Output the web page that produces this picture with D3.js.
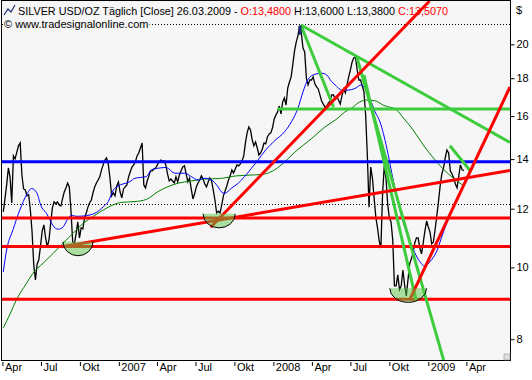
<!DOCTYPE html>
<html>
<head>
<meta charset="utf-8">
<script src="https://cdn.jsdelivr.net/npm/d3@7"></script>
<style>
  body { margin: 0; background: #fff; }
  svg { display: block; font-family: "Liberation Sans", Arial, sans-serif; }
</style>
</head>
<body>
<svg id="chart" width="532" height="380"></svg>
<script>
// Silver close, one reading every 4 calendar days starting at firstDay
const firstDay = "2006-04-03";
const stepDays = 4;
const closes = [
  11.88, 12.37, 12.92, 13.62, 13.25, 12.22, 14.14, 14.01, 14.31, 14.59,
  14.72, 13.33, 12.76, 12.72, 12.49, 12.53, 11.95, 11.17, 10.08, 9.62,
  10.11, 10.24, 10.69, 11.20, 11.41, 10.96, 10.66, 10.89, 11.48, 12.03,
  12.26, 12.18, 12.26, 12.14, 12.10, 12.37, 12.64, 12.80, 13.00, 12.84,
  11.91, 10.82, 10.76, 11.10, 11.52, 10.96, 11.31, 11.27, 11.66, 11.84,
  12.06, 12.22, 12.33, 12.61, 12.84, 13.00, 13.12, 13.25, 13.54, 13.75,
  13.96, 14.05, 13.79, 13.20, 12.49, 12.61, 12.49, 12.88, 13.04, 12.64,
  12.41, 12.76, 12.84, 12.92, 13.25, 13.46, 13.66, 13.75, 13.88, 14.14,
  14.27, 14.49, 14.72, 12.92, 12.80, 13.08, 13.29, 13.50, 13.50, 13.58,
  13.62, 13.75, 13.88, 13.96, 13.92, 13.92, 13.75, 13.37, 13.08, 13.16,
  13.08, 13.00, 13.25, 13.04, 13.33, 13.50, 13.66, 13.71, 13.37, 13.04,
  13.20, 12.76, 12.37, 12.57, 12.84, 13.00, 13.12, 13.29, 13.16, 12.96,
  12.84, 13.04, 13.20, 13.08, 12.72, 12.33, 11.84, 11.91, 11.84, 12.14,
  12.49, 12.68, 12.88, 13.12, 13.29, 13.54, 13.41, 13.58, 13.75, 13.71,
  13.79, 13.92, 14.14, 14.72, 15.19, 15.47, 15.33, 14.86, 14.59, 14.77,
  14.49, 14.18, 14.27, 14.45, 14.72, 14.68, 15.00, 15.14, 15.19, 15.43,
  15.86, 16.06, 16.21, 16.51, 16.11, 16.72, 16.93, 16.56, 17.46, 17.79,
  18.07, 18.81, 19.59, 20.14, 20.53, 21.17, 20.72, 19.77, 19.53, 18.01,
  17.63, 17.90, 17.90, 18.07, 17.69, 17.52, 17.41, 17.09, 16.77, 16.61,
  16.46, 16.51, 16.66, 16.77, 17.09, 17.09, 16.88, 16.99, 16.82, 16.61,
  17.04, 17.41, 17.20, 17.63, 18.07, 18.47, 18.93, 19.17, 19.23, 18.47,
  17.90, 17.90, 17.58, 17.25, 16.06, 14.18, 12.06, 13.66, 13.20, 12.41,
  11.70, 11.31, 10.86, 10.62, 12.57, 13.71, 13.20, 12.18, 11.66, 11.52,
  10.89, 9.44, 9.44, 9.77, 9.33, 9.44, 9.92, 9.47, 9.15, 9.62,
  10.11, 10.27, 10.46, 10.79, 10.96, 10.96, 10.62, 10.43, 10.79, 11.20,
  11.55, 11.34, 11.17, 10.76, 10.82, 11.24, 11.73, 12.26, 12.88, 13.37,
  13.62, 14.05, 14.40, 14.27, 13.50, 13.37, 13.20, 12.96, 12.80, 13.29,
  13.75, 13.54, 13.51
];

// short moving average (blue)
const blueMaDates = [
  "2006-04-03","2006-04-11","2006-04-26","2006-05-12","2006-05-28","2006-06-09","2006-06-21","2006-07-02",
  "2006-07-14","2006-07-22","2006-08-01","2006-08-11","2006-08-23","2006-09-03","2006-09-11","2006-09-24",
  "2006-10-09","2006-10-25","2006-11-09","2006-11-25","2006-12-07","2006-12-19","2006-12-30",
  "2007-01-11","2007-01-27","2007-02-08","2007-03-07","2007-03-19","2007-04-08","2007-04-23","2007-05-13",
  "2007-06-06","2007-06-21","2007-07-07","2007-07-23","2007-08-08","2007-08-23","2007-08-31","2007-09-08",
  "2007-09-24","2007-10-10","2007-10-25","2007-11-10","2007-11-26","2007-12-12",
  "2008-01-04","2008-01-28","2008-02-13","2008-02-28","2008-03-11","2008-03-23","2008-04-08","2008-04-24",
  "2008-05-06","2008-05-17","2008-05-29","2008-06-10","2008-06-26","2008-07-12","2008-07-27","2008-08-04",
  "2008-08-16","2008-08-28","2008-09-09","2008-09-25","2008-10-10","2008-10-26","2008-11-11","2008-11-26",
  "2008-12-12","2008-12-24",
  "2009-01-05","2009-01-20","2009-02-05","2009-02-21","2009-03-09","2009-03-26"
];
const blueMaValues = [
  9.86, 10.56, 11.24, 11.95, 12.53, 12.78, 12.61, 12.07, 11.83, 11.59, 11.34, 11.26, 11.35, 11.65, 11.75, 11.72,
  11.73, 11.77, 11.86, 12.07, 12.27, 12.72, 12.88,
  12.96, 13.05, 13.19, 13.26, 13.54, 13.62, 13.64, 13.40, 13.40, 13.26, 13.12, 13.19, 13.12, 12.85, 12.65, 12.59,
  12.79, 12.99, 13.26, 13.60, 13.96, 14.36,
  14.82, 15.25, 15.73, 16.39, 17.25, 17.94, 18.22, 18.28, 18.18, 17.83, 17.56, 17.35, 17.35, 17.44, 17.63, 17.44,
  16.91, 16.23, 15.71, 14.49, 13.12, 11.95, 11.12, 10.59, 10.18, 10.04,
  10.18, 10.49, 11.13, 11.77, 12.33, 12.92
];

// long moving average (dark green)
const greenMaDates = [
  "2006-04-03","2006-04-19","2006-05-04","2006-05-28","2006-06-12","2006-07-06","2006-07-30","2006-08-22",
  "2006-09-15","2006-10-09","2006-11-01","2006-11-25","2006-12-18",
  "2007-01-07","2007-02-08","2007-03-07","2007-04-03","2007-04-27","2007-05-21","2007-06-21","2007-07-23",
  "2007-08-27","2007-10-06","2007-11-18","2007-12-12",
  "2008-01-04","2008-01-28","2008-02-21","2008-03-30","2008-05-02","2008-05-30","2008-06-18","2008-07-04",
  "2008-07-23","2008-08-11","2008-08-30","2008-09-16","2008-10-18","2008-11-03","2008-11-26","2008-12-20",
  "2009-01-13","2009-02-05","2009-03-01","2009-03-26"
];
const greenMaValues = [
  8.29, 8.65, 9.04, 9.52, 9.82, 10.13, 10.45, 10.78, 11.12, 11.47, 11.71, 11.95, 12.14,
  12.24, 12.27, 12.35, 12.65, 12.85, 12.99, 13.08, 13.16, 13.18, 13.29, 13.33, 13.37,
  13.54, 13.88, 14.31, 14.90, 15.47, 15.86, 16.21, 16.41, 16.72, 16.82, 16.77, 16.56, 16.31, 15.91, 15.33, 14.63,
  14.05, 13.58, 13.20, 12.88
];

// drawn levels and trend lines: [date, price]
const redLevels = [11.66, 10.67, 9.06];
const blueLevel = 13.88;
const greenLevel = ["2008-01-11", 16.36];
const dottedLevels = [21.3, 12.17];
const redTrendFrom = [["2006-08-22", 10.67], ["2007-08-06", 11.33], ["2008-11-18", 9.04]];
const redTrendTo   = [["2009-07-13", 13.51], ["2009-01-04", 22.88], ["2009-07-13", 17.52]];
const greenTrendFrom = [["2008-03-06", 21.24], ["2008-03-06", 21.24], ["2008-07-16", 19.23], ["2008-08-02", 18.18], ["2009-02-21", 14.59]];
const greenTrendTo   = [["2009-07-13", 14.74], ["2008-05-22", 16.46], ["2009-03-05", 6.63], ["2008-12-03", 9.04], ["2009-04-12", 13.46]];

// bottom bowls at the lows
const bowlFrom = ["2006-08-22", "2007-07-19", "2008-10-02"];
const bowlTo   = ["2006-11-01", "2007-10-03", "2008-12-28"];
const bowlTop  = [10.83, 11.81, 9.37];

const peakMark = ["2008-03-04", 20.6, 21.2];

const xTickDates = ["2006-04-01","2006-07-01","2006-10-01","2007-01-01","2007-04-01","2007-07-01","2007-10-01",
  "2008-01-01","2008-04-01","2008-07-01","2008-10-01","2009-01-01","2009-04-01"];
const xTickLabels = ["Apr","Jul","Okt","2007","Apr","Jul","Okt","2008","Apr","Jul","Okt","2009","Apr"];
const yTicks = [8, 10, 12, 14, 16, 18, 20];

const titleParts = [
  ["SILVER USD/OZ Täglich [Close]  26.03.2009 - ", "#000"],
  ["O:13,4800", "#f00"],
  [" H:13,6000 L:13,3800 ", "#000"],
  ["C:13,5070", "#f00"]
];

const parse = d3.timeParse("%Y-%m-%d");
const svg = d3.select("#chart");
const plotLeft = 2, plotRight = 510, plotTop = 1, plotBottom = 360;
const plotBg = "#f6f6f6";

const x = d3.scaleTime()
  .domain([parse("2006-03-31"), parse("2009-07-13")])
  .range([plotLeft, plotRight]);
const y = d3.scaleLog()
  .domain([7.5, 22.88])
  .range([plotBottom, plotTop]);

svg.append("rect")
  .attr("x", plotLeft - 0.5).attr("y", plotTop - 0.5)
  .attr("width", plotRight - plotLeft + 1).attr("height", plotBottom - plotTop + 1)
  .attr("fill", plotBg).attr("stroke", "#000");

svg.append("clipPath").attr("id", "plot")
  .append("rect").attr("x", plotLeft).attr("y", plotTop)
  .attr("width", plotRight - plotLeft).attr("height", plotBottom - plotTop);

const g = svg.append("g").attr("clip-path", "url(#plot)");

// dotted levels
g.selectAll(".dot").data(dottedLevels).enter().append("line")
  .attr("x1", plotLeft).attr("x2", plotRight)
  .attr("y1", d => Math.round(y(d)) + 0.5).attr("y2", d => Math.round(y(d)) + 0.5)
  .attr("stroke", "#000").attr("stroke-dasharray", "1,2");

// price
const priceData = closes.map((c, i) => [d3.timeDay.offset(parse(firstDay), i * stepDays), c]);
const line = d3.line().x(d => x(d[0])).y(d => y(d[1]));
g.append("path").datum(priceData)
  .attr("d", line).attr("fill", "none").attr("stroke", "#000").attr("stroke-width", 1.3);

// moving averages
const smooth = d3.line().x(d => x(d[0])).y(d => y(d[1])).curve(d3.curveMonotoneX);
g.append("path").datum(greenMaDates.map((d, i) => [parse(d), greenMaValues[i]]))
  .attr("d", smooth).attr("fill", "none").attr("stroke", "#008000").attr("stroke-width", 1);
g.append("path").datum(blueMaDates.map((d, i) => [parse(d), blueMaValues[i]]))
  .attr("d", smooth).attr("fill", "none").attr("stroke", "#0000ff").attr("stroke-width", 1);

// horizontal levels
g.append("line")
  .attr("x1", plotLeft).attr("x2", plotRight).attr("y1", y(blueLevel)).attr("y2", y(blueLevel))
  .attr("stroke", "#0000ff").attr("stroke-width", 3);
g.selectAll(".red").data(redLevels).enter().append("line")
  .attr("x1", plotLeft).attr("x2", plotRight).attr("y1", d => y(d)).attr("y2", d => y(d))
  .attr("stroke", "#ff0000").attr("stroke-width", 3);
g.append("line")
  .attr("x1", x(parse(greenLevel[0]))).attr("x2", plotRight)
  .attr("y1", y(greenLevel[1])).attr("y2", y(greenLevel[1]))
  .attr("stroke", "#3ccc3c").attr("stroke-width", 3);

// trend lines
g.selectAll(".gtrend").data(greenTrendFrom).enter().append("line")
  .attr("x1", d => x(parse(d[0]))).attr("y1", d => y(d[1]))
  .attr("x2", (d, i) => x(parse(greenTrendTo[i][0]))).attr("y2", (d, i) => y(greenTrendTo[i][1]))
  .attr("stroke", "#3ccc3c").attr("stroke-width", 3);
g.selectAll(".rtrend").data(redTrendFrom).enter().append("line")
  .attr("x1", d => x(parse(d[0]))).attr("y1", d => y(d[1]))
  .attr("x2", (d, i) => x(parse(redTrendTo[i][0]))).attr("y2", (d, i) => y(redTrendTo[i][1]))
  .attr("stroke", "#ff0000").attr("stroke-width", 3);

// peak marker
g.append("rect")
  .attr("x", x(parse(peakMark[0])) - 1.5).attr("width", 3)
  .attr("y", y(peakMark[2])).attr("height", y(peakMark[1]) - y(peakMark[2]))
  .attr("fill", "#1c2a78");

// bowls
const bowlDepth = 14;
bowlFrom.forEach((d, i) => {
  const x1 = x(parse(d)), x2 = x(parse(bowlTo[i])), yt = y(bowlTop[i]);
  const rx = (x2 - x1) / 2;
  g.append("path")
    .attr("d", `M${x1},${yt} A${rx},${bowlDepth} 0 0 0 ${x2},${yt} Z`)
    .attr("fill", "rgba(90,200,70,0.5)");
  g.append("path")
    .attr("d", `M${x1},${yt} A${rx},${bowlDepth} 0 0 0 ${x2},${yt}`)
    .attr("fill", "none").attr("stroke", "#000").attr("stroke-width", 1);
});

// header
svg.append("polyline")
  .attr("points", "4,15 8,9 11,12 15,5")
  .attr("fill", "none").attr("stroke", "#1c2a78").attr("stroke-width", 1.2);
const title = svg.append("text").attr("x", 18).attr("y", 15)
  .attr("font-size", 11).attr("textLength", 430).attr("lengthAdjust", "spacingAndGlyphs");
titleParts.forEach(p => title.append("tspan").attr("fill", p[1]).text(p[0]));

const urlBg = svg.append("rect").attr("fill", plotBg);
const url = svg.append("text").attr("x", 4).attr("y", 28)
  .attr("font-size", 11).text("© www.tradesignalonline.com");
const bb = url.node().getBBox();
urlBg.attr("x", bb.x - 1).attr("y", bb.y).attr("width", bb.width + 2).attr("height", bb.height);

svg.append("text").attr("x", 516).attr("y", 14).attr("font-size", 11).text("$");

// axes
const yAxis = svg.append("g").attr("transform", `translate(${plotRight + 0.5},0)`)
  .call(d3.axisRight(y).tickValues(yTicks).tickSize(4).tickPadding(2).tickFormat(d3.format("d")));
yAxis.select(".domain").remove();
yAxis.selectAll("text").attr("font-size", 11).attr("font-family", "Liberation Sans, Arial, sans-serif");

const xAxis = svg.append("g").attr("transform", `translate(0,${plotBottom + 2})`)
  .call(d3.axisBottom(x).tickValues(xTickDates.map(parse)).tickSize(4)
    .tickFormat((d, i) => xTickLabels[i]));
xAxis.select(".domain").remove();
xAxis.selectAll("text")
  .attr("text-anchor", "start").attr("x", 2).attr("y", 1).attr("dy", "0.71em")
  .attr("font-size", 11).attr("font-family", "Liberation Sans, Arial, sans-serif");

// resize grip
svg.append("rect").attr("x", plotRight - 6).attr("y", plotBottom - 6).attr("width", 6).attr("height", 6)
  .attr("fill", "#ddd").attr("stroke", "#888").attr("stroke-width", 0.5);
</script>
</body>
</html>
